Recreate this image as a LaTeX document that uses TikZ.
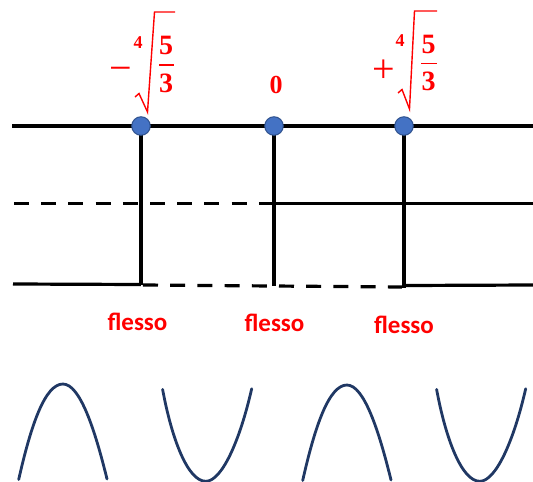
\documentclass[tikz,border=0pt]{standalone}
\usepackage{fontspec}
\newfontfamily\lblfont{Carlito}
\newfontfamily\numfont{Liberation Serif}
\definecolor{dotfill}{HTML}{4472C4}
\definecolor{dotline}{HTML}{2F528F}
\definecolor{navy}{HTML}{203864}
\begin{document}
\begin{tikzpicture}[x=1pt,y=-1pt,
  axis/.style={line width=3.2pt, black},
  dsh/.style={axis, dash pattern=on 15pt off 12.2pt},
  dot/.style={circle, draw=dotline, fill=dotfill, line width=1pt, minimum size=18.5pt, inner sep=0pt},
  lbl/.style={text=red, font=\lblfont\bfseries\fontsize{25}{26}\selectfont, anchor=base, inner sep=0pt},
  num/.style={text=red, font=\numfont\bfseries\fontsize{28}{28}\selectfont, inner sep=0pt},
  sgn/.style={text=red, font=\numfont\fontsize{40}{40}\selectfont, inner sep=0pt},
  idx/.style={text=red, font=\numfont\bfseries\fontsize{18}{18}\selectfont, inner sep=0pt},
  rad/.style={red, line width=1.4pt, line join=miter},
  curve/.style={navy, line width=2.8pt, line cap=round}]
\useasboundingbox (0,0) rectangle (533,482);
% coordinates
\coordinate (p1) at (141,126);
\coordinate (p2) at (274,126);
\coordinate (p3) at (404,126);
\coordinate (tl) at (12,126);
\coordinate (tr) at (533,126);
\coordinate (ml) at (14,203.8);
\coordinate (m2) at (274,203.8);
\coordinate (mr) at (533,203.8);
\coordinate (bl) at (13,284);
\coordinate (b1) at (141,284.5);
\coordinate (b1d) at (143,285);
\coordinate (b2) at (274,286);
\coordinate (b3) at (404,287.5);
\coordinate (b3d) at (402,287);
\coordinate (b3r) at (406,285.5);
\coordinate (br) at (533,285);
% horizontal lines
\draw[axis] (tl) -- (tr);
\draw[dsh] (ml) -- (m2);
\draw[axis] (m2) -- (mr);
\draw[axis] (bl) -- (b1);
\draw[dsh] (b1d) -- (b3d);
\draw[axis] (b3r) -- (br);
% vertical lines
\draw[axis] (p1) -- (b1);
\draw[axis] (p2) -- (b2);
\draw[axis] (p3) -- (b3);
% dots
\node[dot] (d1) at (p1) {};
\node[dot] (d2) at (p2) {};
\node[dot] (d3) at (p3) {};
% labels above
\node[sgn] (ms) at (121,74) {−};
\node[idx] (i1) at (138,42.5) {4};
\node[num] (n5a) at (166,45) {5};
\node[num] (n3a) at (166,83.5) {3};
\draw[rad] (159,64.8) -- (173.5,64.8);
\draw[rad] (135,97) -- (139,93.5) -- (147.5,112) -- (154.5,12) -- (175,12);
\node[num, font=\numfont\bfseries\fontsize{26}{26}\selectfont] (z) at (276,85) {0};
\node[sgn] (ps) at (383.5,71) {+};
\node[idx] (i2) at (400,41) {4};
\node[num] (n5b) at (428.5,44) {5};
\node[num] (n3b) at (428.5,81.5) {3};
\draw[rad] (421,63.6) -- (436.5,63.6);
\draw[rad] (398,93) -- (402,89.5) -- (409.5,109) -- (414.5,11) -- (437,11);
% flesso labels
\node[lbl] (f1) at (137.5,330) {flesso};
\node[lbl] (f2) at (274.5,331) {flesso};
\node[lbl] (f3) at (404,333) {flesso};
% curves
\draw[curve] (18.7,479.5) .. controls (31,425) and (45,384) .. (63,384) .. controls (80,384) and (95,430) .. (107,479);
\draw[curve] (162.6,389.4) .. controls (172,440) and (188,481.3) .. (205.8,481.3) .. controls (222,481.3) and (240,440) .. (251.7,388.7);
\begin{scope}[shift={(284,1)}]
\draw[curve] (18.7,479.5) .. controls (31,425) and (45,384) .. (63,384) .. controls (80,384) and (95,430) .. (107,479);
\end{scope}
\begin{scope}[shift={(274,0)}]
\draw[curve] (162.6,389.4) .. controls (172,440) and (188,481.3) .. (205.8,481.3) .. controls (222,481.3) and (240,440) .. (251.7,388.7);
\end{scope}
\end{tikzpicture}
\end{document}
